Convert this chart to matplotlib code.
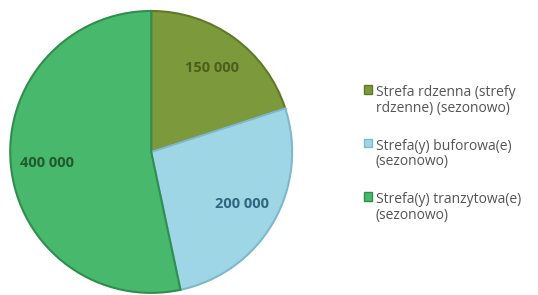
import matplotlib
matplotlib.use("Agg")
import matplotlib.pyplot as plt
from matplotlib.patches import Patch
import numpy as np

categories = ["Strefa rdzenna (strefy\nrdzenne) (sezonowo)",
              "Strefa(y) buforowa(e)\n(sezonowo)",
              "Strefa(y) tranzytowa(e)\n(sezonowo)"]
values = [150000, 200000, 400000]
value_labels = ["150 000", "200 000", "400 000"]

colors = ["#7c9a3c", "#9fd6e6", "#48b96c"]
edge_colors = ["#5e7a26", "#7fb8cc", "#2f8e4e"]
text_colors = ["#4b5e1c", "#2f6680", "#1f5a2e"]

fig = plt.figure(figsize=(5.38, 2.95), dpi=100)
ax = fig.add_axes([0.019, 0.007, 0.524, 0.956])
wedges, _ = ax.pie(values, colors=colors, startangle=90, counterclock=False,
                   wedgeprops=dict(linewidth=1.5, edgecolor="white"))
for w, ec in zip(wedges, edge_colors):
    w.set_edgecolor(ec)
ax.set_xlim(-1.0, 1.0)
ax.set_ylim(-1.0, 1.0)
ax.set_aspect("equal")

total = sum(values)
ang = 90.0
for v, lab, tc in zip(values, value_labels, text_colors):
    span = 360.0 * v / total
    mid = np.deg2rad(ang - span / 2)
    ang -= span
    r = 0.74
    ax.text(r * np.cos(mid), r * np.sin(mid), lab, ha="center", va="center",
            fontsize=10.5, fontweight="bold", color=tc, fontfamily="Open Sans")

handles = [Patch(facecolor=c, edgecolor=e) for c, e in zip(colors, edge_colors)]
leg = fig.legend(handles, categories, loc="upper left",
                 bbox_to_anchor=(0.666, 0.73), frameon=False,
                 prop=dict(family="Open Sans", size=10),
                 handlelength=0.55, handleheight=0.55, handletextpad=0.3,
                 labelspacing=1.65, borderaxespad=0)
for t in leg.get_texts():
    t.set_color("#555555")
    t.set_linespacing(1.06)
try:
    for col in leg._legend_handle_box.get_children():
        for item in col.get_children():
            item.align = "top"
except Exception:
    pass

fig.savefig("out.png", dpi=100)
